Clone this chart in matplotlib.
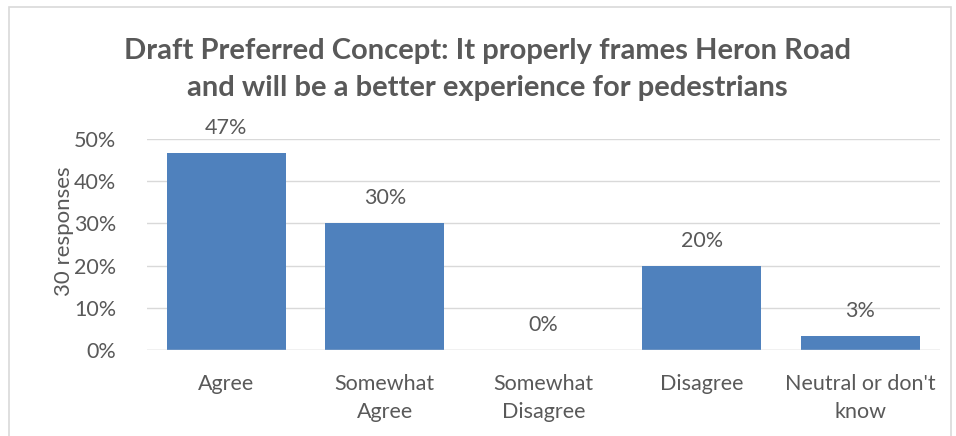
import matplotlib
matplotlib.use("Agg")
import matplotlib.pyplot as plt
from matplotlib.patches import Rectangle

categories = ["Agree", "Somewhat\nAgree", "Somewhat\nDisagree", "Disagree", "Neutral or don't\nknow"]
values = [46.7, 30.0, 0.0, 20.0, 3.3]
value_labels = ["47%", "30%", "0%", "20%", "3%"]
yticks = [0, 10, 20, 30, 40, 50]
ytick_labels = ["0%", "10%", "20%", "30%", "40%", "50%"]
title = "Draft Preferred Concept: It properly frames Heron Road\nand will be a better experience for pedestrians"
ylabel = "30 responses"

plt.rcParams['font.family'] = ['Lato', 'DejaVu Sans']
text_color = "#595959"
bar_color = "#4F81BD"
fs = 15.5

fig = plt.figure(figsize=(9.56, 4.36), dpi=100)
ax = fig.add_axes([0.1538, 0.197, 0.829, 0.484])

x = list(range(len(categories)))
ax.bar(x, values, width=0.75, color=bar_color, zorder=3)
ax.set_xlim(-0.5, len(categories) - 0.5)
ax.set_ylim(0, 50)
ax.set_yticks(yticks)
ax.set_yticklabels(ytick_labels, fontsize=fs, color=text_color)
ax.set_xticks(x)
ax.set_xticklabels(categories, fontsize=fs, color=text_color, linespacing=1.5, va="top")
ax.tick_params(axis="both", length=0)
ax.tick_params(axis="x", pad=17)
ax.tick_params(axis="y", pad=22)
ax.grid(axis="y", color="#D9D9D9", linewidth=1, zorder=0)
for s in ax.spines.values():
    s.set_visible(False)
ax.axhline(0, color="#D9D9D9", linewidth=1, zorder=4)

for xi, v, lab in zip(x, values, value_labels):
    ax.annotate(lab, (xi, v), xytext=(0, 18), textcoords="offset points",
                ha="center", va="center", fontsize=fs, color=text_color)

ax.set_ylabel(ylabel, fontsize=16, color=text_color, labelpad=4)
ax.yaxis.set_label_coords(-0.092, 0.565)

fig.text(0.51, 0.84, title, ha="center", va="center", fontsize=21,
         fontweight="bold", color=text_color, linespacing=1.52)

fig.patches.append(Rectangle((0.0095, -0.05), 0.985, 1.034, transform=fig.transFigure,
                             fill=False, edgecolor="#D9D9D9", linewidth=1.2))

fig.savefig("out.png", dpi=100)
